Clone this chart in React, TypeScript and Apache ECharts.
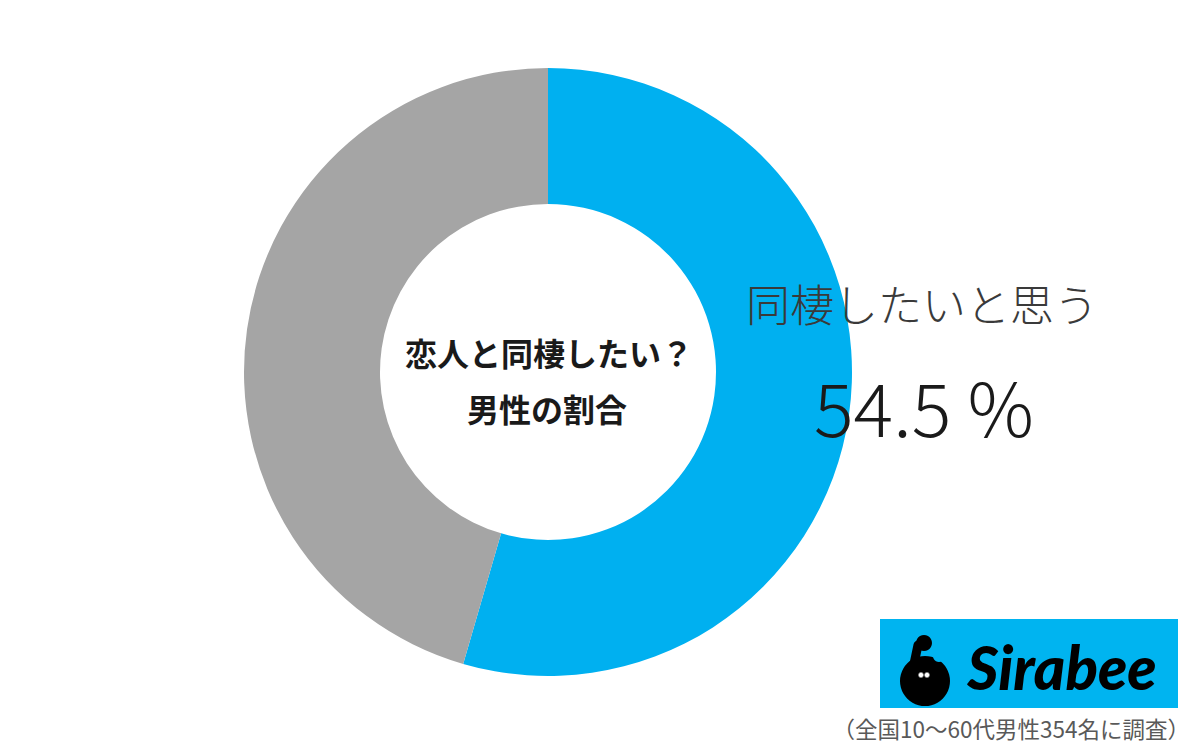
import React, { useEffect, useRef } from "react";
import * as echarts from "echarts";

const categories = ["同棲したいと思う", "同棲したいと思わない"];
const values = [54.5, 45.5];
const colors = ["#00B0F0", "#A5A5A5"];
const centerLines = ["恋人と同棲したい？", "男性の割合"];
const footnote = "（全国10～60代男性354名に調査）";
const brand = "Sirabee";

const JP = '"Noto Sans CJK JP", "Noto Sans", sans-serif';

export default function App() {
  const ref = useRef<HTMLDivElement>(null);
  useEffect(() => {
    if (!ref.current) return;
    const chart = echarts.init(ref.current, null, { renderer: "svg" });
    const els: any[] = [
      {
        type: "text",
        x: 549,
        y: 352,
        style: {
          text: centerLines[0],
          fontFamily: JP,
          fontSize: 32,
          fontWeight: "bold",
          fill: "#1a1a1a",
          align: "center",
          verticalAlign: "middle",
        },
      },
      {
        type: "text",
        x: 547,
        y: 408,
        style: {
          text: centerLines[1],
          fontFamily: JP,
          fontSize: 32,
          fontWeight: "bold",
          fill: "#1a1a1a",
          align: "center",
          verticalAlign: "middle",
        },
      },
      {
        type: "text",
        x: 922,
        y: 303,
        style: {
          text: categories[0],
          fontFamily: JP,
          fontSize: 44,
          fontWeight: 300,
          fill: "#3a3a3a",
          align: "center",
          verticalAlign: "middle",
        },
      },
      {
        type: "text",
        x: 924,
        y: 404,
        style: {
          text: `${values[0]} %`,
          fontFamily: JP,
          fontSize: 74,
          fontWeight: 300,
          fill: "#1a1a1a",
          align: "center",
          verticalAlign: "middle",
        },
      },
      {
        type: "rect",
        shape: { x: 880, y: 619, width: 298, height: 89 },
        style: { fill: "#00B4F0" },
      },
      {
        type: "circle",
        shape: { cx: 925, cy: 681, r: 25 },
        style: { fill: "#000000" },
      },
      {
        type: "circle",
        shape: { cx: 939, cy: 656, r: 6 },
        style: { fill: "#00B4F0" },
      },
      {
        type: "line",
        shape: { x1: 918, y1: 645, x2: 914, y2: 664 },
        style: { stroke: "#000000", lineWidth: 9, lineCap: "round" },
      },
      {
        type: "circle",
        shape: { cx: 924, cy: 643, r: 8 },
        style: { fill: "#000000" },
      },
      {
        type: "circle",
        shape: { cx: 921, cy: 675, r: 2.6 },
        style: { fill: "#ffffff", stroke: "#777777", lineWidth: 0.8 },
      },
      {
        type: "circle",
        shape: { cx: 927, cy: 675, r: 2.6 },
        style: { fill: "#ffffff", stroke: "#777777", lineWidth: 0.8 },
      },
      {
        type: "text",
        x: 1062,
        y: 667,
        style: {
          text: brand,
          fontFamily: "Lato, Roboto, sans-serif",
          fontSize: 60,
          fontWeight: 900,
          fontStyle: "italic",
          fill: "#000000",
          align: "center",
          verticalAlign: "middle",
        },
      },
      {
        type: "text",
        x: 1190,
        y: 728,
        style: {
          text: footnote,
          fontFamily: JP,
          fontSize: 22.5,
          fill: "#595959",
          align: "right",
          verticalAlign: "middle",
        },
      },
    ];
    chart.setOption({
      animation: false,
      backgroundColor: "#ffffff",
      series: [
        {
          type: "pie",
          center: [548, 372],
          radius: [168, 304],
          startAngle: 90,
          clockwise: true,
          silent: true,
          z: 1,
          label: { show: false },
          labelLine: { show: false },
          itemStyle: { borderWidth: 0 },
          data: categories.map((c, i) => ({
            name: c,
            value: values[i],
            itemStyle: { color: colors[i] },
          })),
        },
      ],
      graphic: {
        elements: els.map((e, i) => ({ ...e, z: 100 + i, silent: true })),
      },
    });
    return () => chart.dispose();
  }, []);
  return (
    <div
      ref={ref}
      style={{ position: "fixed", left: 0, top: 0, width: 1200, height: 749, background: "#fff" }}
    />
  );
}
